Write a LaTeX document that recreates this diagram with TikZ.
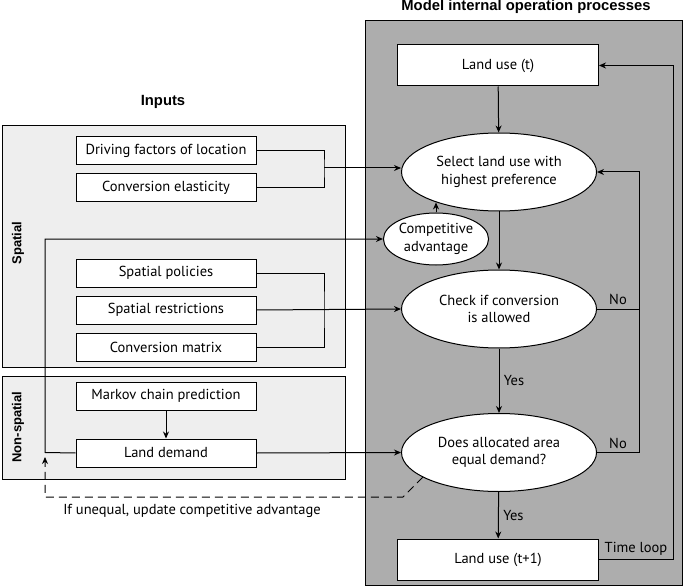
\documentclass[tikz,border=0pt]{standalone}
\usepackage{fontspec}
\setmainfont{PT Sans}
\newfontfamily\headfont{Liberation Sans}
\usepackage{tikz}
\usetikzlibrary{positioning}
\usetikzlibrary{shapes.geometric, arrows, arrows.meta}
\definecolor{mygri1}{RGB}{173,173,173}
\definecolor{mygri2}{RGB}{238,238,238}
\tikzstyle{inbox} = [rectangle, minimum width=180pt, minimum height=28pt, inner sep=0pt, text centered, draw=black, fill=white, text=black]
\tikzstyle{landbox} = [rectangle, minimum width=201pt, minimum height=41pt, inner sep=0pt, text centered, draw=black, fill=white, text=black]
\tikzstyle{decision} = [ellipse, minimum width=195pt, minimum height=78pt, inner sep=0pt, align=center, draw=black, fill=white]
\tikzstyle{smalldecision} = [ellipse, minimum width=104pt, minimum height=52pt, inner sep=0pt, align=center, draw=black, fill=white]
\tikzstyle{panel} = [draw=black, fill=mygri2]
\tikzstyle{modelpanel} = [draw=black, fill=mygri1]
\tikzstyle{header} = [font=\headfont\bfseries\fontsize{14.8}{17}\selectfont]
\tikzstyle{sidelabel} = [font=\headfont\bfseries\fontsize{13}{15}\selectfont, rotate=90]
\tikzstyle{flow} = [->,>={Stealth[length=7pt,width=6pt]}]
\tikzstyle{loopback} = [->,>={Stealth[length=7pt,width=6pt]},dash pattern=on 8pt off 5pt]

\begin{document}
\begin{tikzpicture}[x=1pt,y=-1pt,line width=1pt,font=\fontsize{14.5}{17.5}\selectfont]
	\useasboundingbox (0,0) rectangle (685,588);
	% panels
	\draw[panel] (2,126) rectangle (345,367);
	\draw[panel] (2,376) rectangle (345,479);
	\draw[modelpanel] (365,21) rectangle (682,585);
	\node (modeltitle)[header] at (526,7) {Model internal operation processes};
	\node (inputtitle)[header] at (163,102) {Inputs};
	\node (spatial)[sidelabel] at (18,243) {Spatial};
	\node (nonspatial)[sidelabel] at (18,427) {Non-spatial};
	% inputs
	\node (drive)[inbox] at (166,150.5) {Driving factors of location};
	\node (elast)[inbox, below=8pt of drive] {Conversion elasticity};
	\node (policy)[inbox] at (166,273) {Spatial policies};
	\node (restrict)[inbox, below=8pt of policy] {Spatial restrictions};
	\node (matrix)[inbox, below=8pt of restrict] {Conversion matrix};
	\node (markov)[inbox] at (166,396) {Markov chain prediction};
	\node (demand)[inbox, below=28pt of markov] {Land demand};
	% model
	\node (landt)[landbox] at (498,65.5) {Land use (t)};
	\node (select)[decision] at (499,172) {Select land use with\\highest preference};
	\node (compadv)[smalldecision] at (436,239) {Competitive\\advantage};
	\node (check)[decision] at (499,309) {Check if conversion\\is allowed};
	\node (does)[decision] at (499,452.5) {Does allocated area\\equal demand?};
	\node (landt1)[landbox] at (498,559.5) {Land use (t+1)};
	\node (note) at (192,511) {If unequal, update competitive advantage};
	% bends
	\coordinate (joinA) at (324,168);
	\coordinate (joinB) at (324,309);
	\coordinate (loopNo) at (639,309);
	\coordinate (loopT) at (673,559.5);
	\coordinate (backB) at (45,452.5);
	\coordinate (backT) at (45,239);
	\coordinate (dashC) at (403,497);
	\coordinate (dashEnd) at (45,457);
	% connectors
	\draw (drive.east) -| (joinA) |- (elast.east);
	\draw [flow] (joinA) -- (joinA -| select.west);
	\draw (policy.east) -| (joinB) |- (matrix.east);
	\draw [flow] (restrict.east) -- (check.west);
	\draw [flow] (markov) -- (demand);
	\draw [flow] (demand.east) -- (does.west);
	\draw [flow] (demand.west) -- (backB) -- (backT) -- (compadv.west);
	\draw [loopback] (does.198) -- (dashC) -| (dashEnd);
	\draw [flow] (landt) -- (select);
	\draw [flow] (compadv.north) -- (compadv.north |- select.206);
	\draw [flow] (select) -- (check);
	\draw [flow] (check) -- node[right=1pt]{Yes} (does);
	\draw [flow] (does) -- node[right=1pt]{Yes} (landt1);
	\draw [flow] (check.east) -- node[above]{No} (loopNo) |- (select.east);
	\draw (does.east) -- node[above]{No} (does.east -| loopNo) -- (loopNo);
	\draw [flow] (landt1.east) -- node[above]{Time loop} (loopT) |- (landt.east);
\end{tikzpicture}
\end{document}
